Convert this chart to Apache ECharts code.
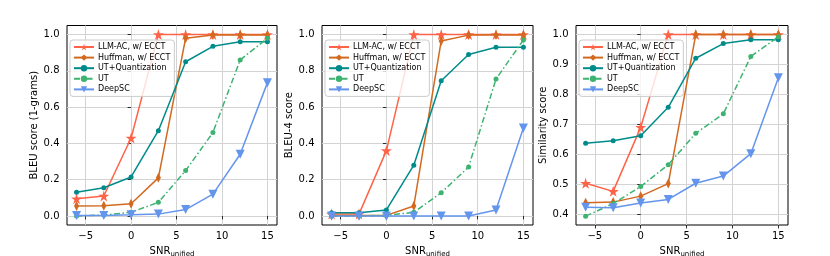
<!DOCTYPE html>
<html><head><meta charset="utf-8">
<script src="https://cdn.jsdelivr.net/npm/echarts@6/dist/echarts.min.js"></script>
<style>html,body{margin:0;padding:0;background:#fff}#c{width:830px;height:256px}</style>
</head><body><div id="c"></div>
<script>
const snr = [-6, -3, 0, 3, 6, 9, 12, 15];
const seriesNames = ['LLM-AC, w/ ECCT', 'Huffman, w/ ECCT', 'UT+Quantization', 'UT', 'DeepSC'];
const xTicks = [-5, 0, 5, 10, 15];
const yTicksBleu = [0, 0.2, 0.4, 0.6, 0.8, 1.0];
const yTicksSim = [0.4, 0.5, 0.6, 0.7, 0.8, 0.9, 1.0];
const yNames = ['BLEU score (1-grams)', 'BLEU-4 score', 'Similarity score'];

// Chart 1: BLEU (1-grams)
const bleu1_llmac   = [0.095, 0.11, 0.43, 1.0, 1.0, 1.0, 1.0, 1.0];
const bleu1_huffman = [0.055, 0.056, 0.067, 0.21, 0.98, 0.997, 0.997, 0.997];
const bleu1_utq     = [0.13, 0.155, 0.215, 0.47, 0.85, 0.935, 0.96, 0.96];
const bleu1_ut      = [0.0, 0.005, 0.02, 0.075, 0.25, 0.46, 0.86, 0.98];
const bleu1_deepsc  = [0.003, 0.003, 0.006, 0.01, 0.035, 0.12, 0.34, 0.735];
// Chart 2: BLEU-4
const bleu4_llmac   = [0.01, 0.01, 0.36, 1.0, 1.0, 1.0, 1.0, 1.0];
const bleu4_huffman = [0.003, 0.003, 0.003, 0.055, 0.965, 0.997, 0.997, 0.997];
const bleu4_utq     = [0.017, 0.018, 0.033, 0.28, 0.745, 0.89, 0.93, 0.93];
const bleu4_ut      = [0.0, 0.0, 0.003, 0.02, 0.128, 0.27, 0.755, 0.97];
const bleu4_deepsc  = [0.0, 0.0, 0.0, 0.0, 0.0, 0.0, 0.033, 0.485];
// Chart 3: Similarity
const sim_llmac   = [0.503, 0.476, 0.69, 1.0, 1.0, 1.0, 1.0, 1.0];
const sim_huffman = [0.438, 0.44, 0.46, 0.502, 1.0, 1.0, 1.0, 1.0];
const sim_utq     = [0.637, 0.645, 0.662, 0.757, 0.921, 0.97, 0.983, 0.983];
const sim_ut      = [0.393, 0.435, 0.492, 0.565, 0.67, 0.735, 0.927, 0.993];
const sim_deepsc  = [0.423, 0.421, 0.437, 0.449, 0.503, 0.527, 0.602, 0.856];

const panels = [
  [bleu1_llmac, bleu1_huffman, bleu1_utq, bleu1_ut, bleu1_deepsc],
  [bleu4_llmac, bleu4_huffman, bleu4_utq, bleu4_ut, bleu4_deepsc],
  [sim_llmac, sim_huffman, sim_utq, sim_ut, sim_deepsc]
];

const FONT = 'DejaVu Sans';
const star = 'path://M50,0 L61.2,34.5 L97.6,34.5 L68.2,55.9 L79.4,90.5 L50,69.1 L20.6,90.5 L31.8,55.9 L2.4,34.5 L38.8,34.5 Z';
const triDown = 'path://M0,0 L10,0 L5,9 Z';
const styles = [
  {color: '#FF6347', symbol: star, symbolSize: 11, type: 'solid'},
  {color: '#D2691E', symbol: 'diamond', symbolSize: [5, 10], type: 'solid'},
  {color: '#008B8B', symbol: 'circle', symbolSize: 5, type: 'solid'},
  {color: '#3CB371', symbol: 'circle', symbolSize: 5, type: [6, 2.5, 1.5, 2.5]},
  {color: '#6495ED', symbol: triDown, symbolSize: 9, type: 'solid'}
];

const grids = [
  {left: 67, top: 25.5, width: 210, height: 199.5},
  {left: 322, top: 25.5, width: 211, height: 199.5},
  {left: 576, top: 25.5, width: 212, height: 199.5}
];
const yRanges = [[-0.05, 1.05], [-0.05, 1.05], [0.3635, 1.0304]];
const yTickSets = [yTicksBleu, yTicksBleu, yTicksSim];

const option = {
  animation: false,
  backgroundColor: '#fff',
  grid: grids.map(g => Object.assign({show: true, borderColor: '#000', borderWidth: 1, backgroundColor: 'transparent',
    containLabel: false, outerBoundsMode: 'none'}, g)),
  xAxis: grids.map((g, i) => ({
    type: 'value', gridIndex: i, min: -7.05, max: 16.05,
    name: '{a|SNR}{b|unified}', nameLocation: 'middle', nameGap: 14.5,
    nameTextStyle: {rich: {
      a: {fontFamily: FONT, fontSize: 10, color: '#000', lineHeight: 12, verticalAlign: 'middle'},
      b: {fontFamily: FONT, fontSize: 7, color: '#000', lineHeight: 6, verticalAlign: 'bottom'}
    }},
    axisLine: {show: false},
    axisTick: {show: true, customValues: xTicks, length: 3.5, inside: false, lineStyle: {color: '#000', width: 0.8}},
    axisLabel: {customValues: xTicks, fontFamily: FONT, fontSize: 10, color: '#000', margin: 6.5,
      formatter: v => (v < 0 ? '\u2212' + Math.abs(v) : String(v))},
    splitLine: {show: true, lineStyle: {color: '#d3d3d3', width: 1}}
  })),
  yAxis: grids.map((g, i) => ({
    type: 'value', gridIndex: i, min: yRanges[i][0], max: yRanges[i][1],
    name: yNames[i], nameLocation: 'middle', nameGap: i === 2 ? 27 : 28, nameRotate: 90,
    nameTextStyle: {fontFamily: FONT, fontSize: 10, color: '#000'},
    axisLine: {show: false},
    axisTick: {show: true, customValues: yTickSets[i], length: 3.5, lineStyle: {color: '#000', width: 0.8}},
    axisLabel: {customValues: yTickSets[i], fontFamily: FONT, fontSize: 10, color: '#000', margin: 7.5,
      formatter: v => v.toFixed(1)},
    splitLine: {show: true, lineStyle: {color: '#d3d3d3', width: 1}}
  })),
  legend: grids.map((g, i) => ({
    orient: 'vertical', left: g.left + 3, top: 40,
    data: seriesNames,
    itemWidth: 20, itemHeight: 8, itemGap: 2.6,
    padding: [3, 4, 3, 3],
    backgroundColor: 'rgba(255,255,255,0.8)', borderColor: '#cccccc', borderWidth: 1, borderRadius: 3,
    textStyle: {fontFamily: FONT, fontSize: 8, color: '#000', padding: [0, 0, 0, -1]},
    selectedMode: false
  })),
  series: []
};

panels.forEach((vals, p) => {
  vals.forEach((arr, s) => {
    const st = styles[s];
    option.series.push({
      type: 'line', name: seriesNames[s], xAxisIndex: p, yAxisIndex: p,
      data: snr.map((x, k) => [x, arr[k]]),
      symbol: st.symbol, symbolSize: st.symbolSize, showSymbol: true,
      lineStyle: {color: st.color, width: 1.5, type: st.type},
      itemStyle: {color: st.color, borderWidth: 0},
      clip: false, z: 2 + s
    });
  });
});

const chart = echarts.init(document.getElementById('c'), null, {renderer: 'canvas'});
chart.setOption(option);
</script></body></html>
